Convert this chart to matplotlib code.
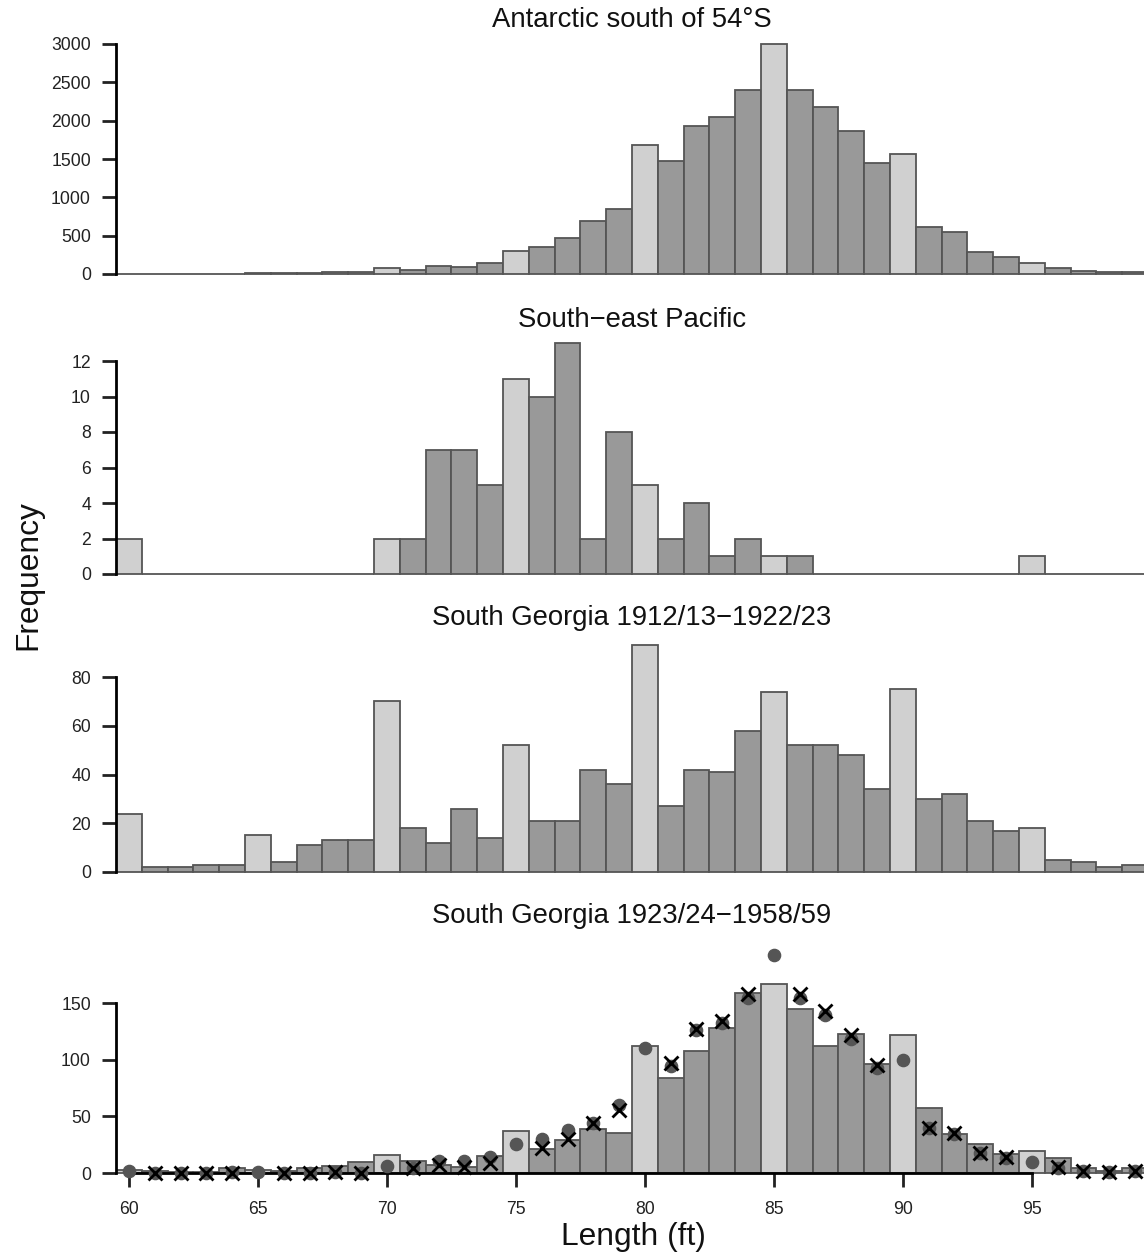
import numpy as np
import matplotlib
matplotlib.use("Agg")
import matplotlib.pyplot as plt

plt.rcParams['font.family'] = ['Liberation Sans', 'DejaVu Sans']

# ---------------- data ----------------
lengths = list(range(60, 100))

titles = ["Antarctic south of 54°S",
          "South\u2212east Pacific",
          "South Georgia 1912/13\u22121922/23",
          "South Georgia 1923/24\u22121958/59"]

antarctic = [3, 2, 2, 3, 4, 8, 10, 12, 20, 25,
             74, 52, 104, 95, 147, 295, 355, 468, 685, 845,
             1677, 1478, 1929, 2046, 2401, 3000, 2401, 2176, 1860, 1448,
             1565, 615, 550, 290, 217, 139, 78, 43, 30, 26]

se_pacific = [2, 0, 0, 0, 0, 0, 0, 0, 0, 0,
              2, 2, 7, 7, 5, 11, 10, 13, 2, 8,
              5, 2, 4, 1, 2, 1, 1, 0, 0, 0,
              0, 0, 0, 0, 0, 1, 0, 0, 0, 0]

sg_early = [24, 2, 2, 3, 3, 15, 4, 11, 13, 13,
            70, 18, 12, 26, 14, 52, 21, 21, 42, 36,
            93, 27, 42, 41, 58, 74, 52, 52, 48, 34,
            75, 30, 32, 21, 17, 18, 5, 4, 2, 3]

sg_late = [3, 2, 1, 1, 4, 3, 2, 4, 6, 10,
           16, 11, 7, 5, 15, 37, 21, 29, 39, 35,
           112, 84, 108, 128, 159, 167, 145, 112, 123, 96,
           122, 57, 34, 26, 17, 19, 13, 4, 2, 4]

# overlay points for bottom panel
sg_late_dots = [2, 0, 0, 0, 1, 1, 0, 0, 1, 0,
                6, 4, 11, 11, 14, 26, 30, 38, 44, 60,
                110, 94, 126, 132, 154, 192, 154, 139, 118, 93,
                100, 40, 34, 18, 13, 10, 4, 2, 1, 2]

cross_lengths = [61, 62, 63, 64, 66, 67, 68, 69, 71, 72, 73, 74, 76, 77, 78, 79,
                 81, 82, 83, 84, 86, 87, 88, 89, 91, 92, 93, 94, 96, 97, 98, 99]
cross_values = [0, 0, 0, 0, 0, 0, 1, 0, 4, 7, 5, 9, 22, 30, 44, 56,
                97, 127, 134, 158, 158, 143, 122, 95, 40, 35, 18, 14, 5, 2, 1, 2]

series = [antarctic, se_pacific, sg_early, sg_late]
yticks = [list(range(0, 3001, 500)), list(range(0, 13, 2)),
          list(range(0, 81, 20)), [0, 50, 100, 150]]
xticks = [60, 65, 70, 75, 80, 85, 90, 95]

# ---------------- layout (pixels) ----------------
W, H = 1144, 1255
# (zero_px, top_tick_px, axes_top_px, title_px)
layout = [(274, 44, 36, 20),
          (574, 361, 336, 320),
          (872, 677, 638, 618),
          (1173, 1003, 944, 916)]
left_px, right_px = 116, 1148
below = 6

dark = '#999999'
light = '#d0d0d0'
edge = '#555555'
colors = [light if L % 5 == 0 else dark for L in lengths]

fig = plt.figure(figsize=(W / 100, H / 100), dpi=100)

for i, (vals, ticks, (zp, tp, top_px, tpx)) in enumerate(zip(series, yticks, layout)):
    scale = (zp - tp) / ticks[-1]          # px per unit
    bottom_px = zp + below
    ax = fig.add_axes([left_px / W, 1 - bottom_px / H,
                       (right_px - left_px) / W, (bottom_px - top_px) / H])
    ax.bar(lengths, vals, width=1.0, color=colors, edgecolor=edge,
           linewidth=1.3, zorder=2)
    ax.set_xlim(59.5, 99.5)
    ax.set_ylim(-below / scale, (zp - top_px) / scale)
    ax.set_yticks(ticks)
    ax.set_yticklabels([str(t) for t in ticks])
    for s in ['top', 'right']:
        ax.spines[s].set_visible(False)
    ax.spines['left'].set_bounds(ticks[0], ticks[-1])
    ax.spines['left'].set_linewidth(2)
    ax.tick_params(axis='y', length=10, width=2, labelsize=12.7, pad=8,
                   colors='#222222')
    ax.patch.set_alpha(0)
    if i < 3:
        ax.spines['bottom'].set_visible(False)
        ax.tick_params(axis='x', bottom=False, labelbottom=False)
    else:
        ax.spines['bottom'].set_position(('data', 0))
        ax.spines['bottom'].set_bounds(60, 95)
        ax.spines['bottom'].set_linewidth(2)
        ax.set_xticks(xticks)
        ax.set_xticklabels([str(t) for t in xticks])
        ax.tick_params(axis='x', length=10, width=2, labelsize=12.7, pad=10,
                       colors='#222222')
        ax.plot(lengths, sg_late_dots, linestyle='none', marker='o',
                markersize=8.8, color='#555555', zorder=3, clip_on=False)
        ax.plot(cross_lengths, cross_values, linestyle='none', marker='x',
                markersize=9.5, markeredgewidth=2, color='black', zorder=4,
                clip_on=False)
    fig.text((left_px + right_px) / 2 / W, 1 - tpx / H, titles[i],
             ha='center', va='center', fontsize=19.8, color='#111111')

fig.text(633 / W, 1 - 1237 / H, "Length (ft)", ha='center', va='center',
         fontsize=22.9, color='#111111')
fig.text(28 / W, 1 - 575 / H, "Frequency", ha='center', va='center',
         rotation=90, fontsize=22.9, color='#111111')

fig.savefig('out.png', dpi=100)
